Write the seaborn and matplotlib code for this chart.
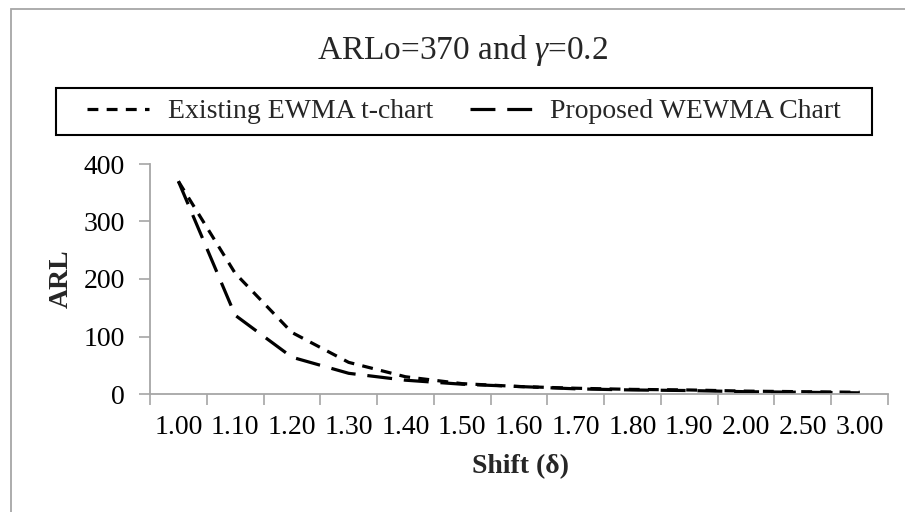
import matplotlib
matplotlib.use("Agg")
import matplotlib.pyplot as plt
import seaborn as sns
import pandas as pd
from matplotlib.patches import Rectangle

shifts = ["1.00", "1.10", "1.20", "1.30", "1.40", "1.50", "1.60",
          "1.70", "1.80", "1.90", "2.00", "2.50", "3.00"]
ewma_t = [370, 210, 107, 55, 30, 18, 13, 10, 8, 7, 5, 4, 3]
wewma = [370, 137, 64, 36, 24, 17, 13, 9, 7, 6, 4, 3, 2]
series_names = ["Existing EWMA t-chart", "Proposed WEWMA Chart"]
title_text = "ARLo=370 and $\\gamma$=0.2"
yticks = [0, 100, 200, 300, 400]

df = pd.DataFrame({
    "Shift": shifts * 2,
    "ARL": ewma_t + wewma,
    "Series": [series_names[0]] * len(shifts) + [series_names[1]] * len(shifts),
})

sns.set_style("white")
plt.rcParams["font.family"] = ["Liberation Serif", "DejaVu Serif"]
plt.rcParams["mathtext.fontset"] = "custom"
plt.rcParams["mathtext.rm"] = "Liberation Serif"
plt.rcParams["mathtext.it"] = "Liberation Serif:italic"

W, H = 905, 512
fig = plt.figure(figsize=(W / 100, H / 100), dpi=100)
fig.patch.set_facecolor("white")

def fx(px):
    return px / W

def fy(py):
    return 1 - py / H

ax = fig.add_axes([fx(150), fy(394), fx(888) - fx(150), fy(164) - fy(394)])

lw = 2.3
sns.lineplot(data=df, x="Shift", y="ARL", hue="Series", style="Series",
             palette={series_names[0]: "black", series_names[1]: "black"},
             dashes={series_names[0]: (3.4, 2.6), series_names[1]: (7.8, 3.7)},
             linewidth=lw, sort=False, ax=ax, legend=True)
for ln in ax.get_lines():
    ln.set_dash_capstyle("butt")

handles, labels = ax.get_legend_handles_labels()
ax.get_legend().remove()

ax.set_xlim(-0.5, len(shifts) - 0.5)
ax.set_ylim(0, 400)
ax.set_yticks(yticks)
ax.set_xticks(range(len(shifts)))
ax.set_xticklabels(shifts)
ax.set_xticks([i - 0.5 for i in range(len(shifts) + 1)], minor=True)
ax.tick_params(axis="x", which="major", length=0, pad=15, labelsize=20, colors="black")
ax.tick_params(axis="x", which="minor", length=8, width=1.2, color="#a6a6a6", direction="out", bottom=True)
ax.tick_params(axis="y", which="major", length=8, width=1.2, color="#a6a6a6", direction="out",
               left=True, pad=10, labelsize=20, labelcolor="black")

for s in ["top", "right"]:
    ax.spines[s].set_visible(False)
for s in ["left", "bottom"]:
    ax.spines[s].set_color("#a6a6a6")
    ax.spines[s].set_linewidth(1.3)
ax.grid(False)
ax.set_xlabel("")
ax.set_ylabel("")

fig.text(fx(61), fy(279), "ARL", rotation=90, ha="center", va="center",
         fontsize=20, fontweight="bold")
fig.text(fx(520), fy(467), "Shift (δ)", ha="center", va="center",
         fontsize=20, fontweight="bold")
fig.text(fx(463), fy(51), title_text, ha="center", va="center", fontsize=24)

# outer chart border
fig.patches.append(Rectangle((fx(11), fy(H + 10)), fx(W + 10) - fx(11), fy(9) - fy(H + 10),
                             transform=fig.transFigure, fill=False,
                             edgecolor="#a6a6a6", linewidth=1.3))
# legend frame
fig.patches.append(Rectangle((fx(56), fy(135)), fx(872) - fx(56), fy(88) - fy(135),
                             transform=fig.transFigure, fill=False,
                             edgecolor="black", linewidth=1.5))
leg = fig.legend(handles, labels, loc="center", bbox_to_anchor=(fx(464), fy(111.5)),
                 ncol=2, frameon=False, fontsize=20, handlelength=2.23,
                 handletextpad=0.67, columnspacing=1.33)
for h in leg.legend_handles:
    h.set_linewidth(lw)
    h.set_dash_capstyle("butt")

fig.savefig("out.png", dpi=100)
